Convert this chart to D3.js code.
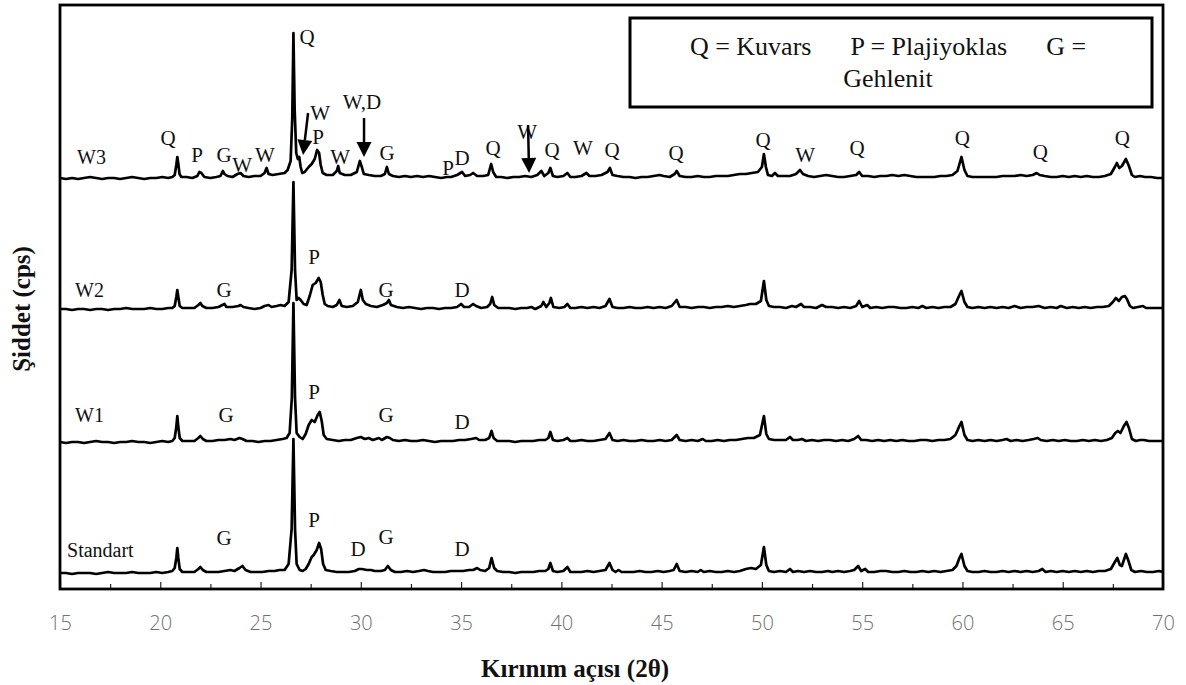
<!DOCTYPE html>
<html><head><meta charset="utf-8">
<script src="https://cdn.jsdelivr.net/npm/d3@7"></script>
<style>body{margin:0;background:#fff}svg{display:block}</style>
</head><body>
<svg id="c" width="1186" height="685"></svg>
<script>
// ---- data (2θ, relative intensity) ----
const seriesNames = ["Standart", "W1", "W2", "W3"];
const seriesOffsets = [15, 146, 279, 410];

const standart = [[15,1],[15.3,1],[15.6,0],[15.9,1],[16.2,1],[16.5,1],[16.8,0],[17.1,1],[17.4,2],[17.7,1],[18,1],[18.3,1],[18.6,2],[18.9,1],[19.2,1],[19.5,1],[19.8,2],[20.1,1],[20.4,2],[20.6,3],[20.72,6],[20.8,16],[20.85,26],[20.9,16],[20.97,5],[21.1,2],[21.4,2],[21.7,2],[21.9,5],[22,7],[22.12,4],[22.3,2],[22.6,2],[22.9,2],[23.2,3],[23.5,4],[23.7,3],[23.95,6],[24.1,8],[24.25,4],[24.5,2],[24.8,2],[25.1,2],[25.4,3],[25.7,3],[25.95,4],[26.2,4],[26.4,10],[26.55,45],[26.64,135],[26.72,45],[26.8,10],[26.95,4],[27.1,3],[27.25,5],[27.4,10],[27.55,17],[27.65,19],[27.8,24],[27.92,31],[28.02,25],[28.12,10],[28.25,4],[28.5,3],[28.8,2],[29.1,2],[29.4,2],[29.7,3],[29.9,5],[30.05,5],[30.3,4],[30.5,4],[30.7,3],[31,3],[31.2,4],[31.35,8],[31.5,4],[31.7,2],[32,2],[32.3,3],[32.6,2],[32.9,3],[33.15,4],[33.35,3],[33.6,2],[33.9,2],[34.2,2],[34.5,3],[34.8,3],[35.1,3],[35.4,4],[35.6,4],[35.8,6],[35.95,4],[36.2,3],[36.4,6],[36.52,16],[36.65,6],[36.8,3],[37.1,2],[37.4,2],[37.7,1],[38,2],[38.3,2],[38.6,2],[38.9,3],[39.2,3],[39.35,5],[39.45,11],[39.58,3],[39.8,2],[40.1,3],[40.3,7],[40.45,2],[40.7,2],[41,2],[41.3,3],[41.6,2],[41.9,3],[42.2,4],[42.4,11],[42.55,4],[42.7,2],[42.85,4],[43,2],[43.3,2],[43.6,2],[43.9,3],[44.2,2],[44.5,2],[44.8,3],[45.1,2],[45.4,3],[45.6,4],[45.75,10],[45.9,3],[46.2,2],[46.5,3],[46.8,2],[46.95,4],[47.1,2],[47.4,3],[47.7,2],[48,2],[48.3,3],[48.6,2],[48.9,3],[49.2,5],[49.45,6],[49.7,5],[49.95,9],[50.1,27],[50.22,9],[50.35,3],[50.6,2],[50.9,3],[51.2,2],[51.4,5],[51.55,2],[51.8,3],[52.1,2],[52.4,3],[52.7,2],[53,2],[53.3,3],[53.5,2],[53.8,3],[54.1,2],[54.4,3],[54.6,4],[54.8,8],[54.95,3],[55.15,5],[55.3,2],[55.6,2],[55.9,3],[56.2,3],[56.5,2],[56.8,2],[57.1,3],[57.4,2],[57.7,2],[58,3],[58.3,2],[58.6,3],[58.9,2],[59.2,3],[59.5,4],[59.7,8],[59.85,16],[59.95,20],[60.1,8],[60.25,3],[60.5,2],[60.8,2],[61.1,3],[61.4,2],[61.7,2],[62,3],[62.3,2],[62.6,3],[62.9,2],[63.2,3],[63.5,2],[63.8,3],[63.98,5],[64.15,2],[64.4,3],[64.7,2],[65,3],[65.3,2],[65.6,3],[65.9,2],[66.2,3],[66.5,2],[66.8,3],[67.1,3],[67.4,5],[67.6,12],[67.72,16],[67.85,9],[67.95,8],[68.15,20],[68.28,13],[68.42,4],[68.6,2],[68.9,3],[69.2,2],[69.5,2],[69.8,3],[70,2]];

const w1 = [[15,1],[15.3,0],[15.6,1],[15.9,1],[16.2,0],[16.5,1],[16.8,2],[17.1,1],[17.4,1],[17.7,0],[18,1],[18.3,1],[18.6,2],[18.9,1],[19.2,1],[19.5,0],[19.8,1],[20.1,2],[20.4,1],[20.6,2],[20.72,5],[20.8,16],[20.85,27],[20.9,16],[20.97,5],[21.1,2],[21.4,2],[21.7,2],[21.9,5],[22,7],[22.12,4],[22.3,2],[22.6,2],[22.9,3],[23.2,3],[23.5,4],[23.7,3],[23.95,5],[24.1,4],[24.3,2],[24.6,2],[24.9,1],[25.2,2],[25.5,2],[25.8,3],[26.1,4],[26.3,5],[26.45,10],[26.56,45],[26.64,140],[26.72,45],[26.8,10],[26.95,6],[27.1,4],[27.25,9],[27.4,18],[27.55,23],[27.7,21],[27.85,28],[27.95,31],[28.05,22],[28.15,8],[28.3,4],[28.6,3],[28.9,2],[29.2,3],[29.5,3],[29.8,5],[30,6],[30.2,4],[30.4,5],[30.6,3],[30.9,5],[31.05,3],[31.3,6],[31.45,5],[31.6,3],[31.9,2],[32.2,3],[32.5,2],[32.8,2],[33.1,3],[33.4,2],[33.7,1],[34,2],[34.3,2],[34.6,2],[34.9,3],[35.2,3],[35.5,4],[35.75,5],[35.9,3],[36.2,3],[36.4,5],[36.52,12],[36.62,5],[36.8,2],[37.1,2],[37.4,2],[37.7,1],[38,2],[38.3,2],[38.6,2],[38.9,3],[39.2,3],[39.35,5],[39.45,11],[39.58,3],[39.8,2],[40.1,3],[40.3,5],[40.45,2],[40.7,2],[41,3],[41.3,2],[41.6,2],[41.9,3],[42.2,4],[42.4,10],[42.55,3],[42.8,2],[43.1,3],[43.4,2],[43.7,2],[44,3],[44.3,2],[44.6,2],[44.9,3],[45.2,2],[45.5,3],[45.75,8],[45.9,3],[46.2,2],[46.5,3],[46.8,2],[47.05,4],[47.2,2],[47.5,2],[47.8,3],[48.1,2],[48.4,3],[48.7,3],[49,4],[49.3,5],[49.6,5],[49.9,8],[50.1,27],[50.22,9],[50.35,4],[50.6,3],[50.9,3],[51.2,3],[51.4,6],[51.55,3],[51.8,3],[52,4],[52.2,2],[52.5,3],[52.8,2],[53.1,3],[53.4,3],[53.7,2],[54,3],[54.3,2],[54.6,4],[54.8,7],[54.95,3],[55.2,3],[55.5,2],[55.8,3],[56.1,2],[56.4,3],[56.7,2],[57,3],[57.3,2],[57.6,2],[57.9,3],[58.2,3],[58.5,2],[58.8,3],[59.1,3],[59.4,4],[59.65,8],[59.85,17],[59.95,21],[60.1,8],[60.25,3],[60.5,2],[60.8,3],[61.1,2],[61.4,3],[61.7,2],[62,3],[62.2,4],[62.4,2],[62.7,3],[63,2],[63.3,3],[63.55,4],[63.75,5],[63.9,3],[64.2,2],[64.5,3],[64.8,2],[65.1,3],[65.4,2],[65.7,2],[66,3],[66.3,2],[66.6,3],[66.9,2],[67.2,3],[67.45,5],[67.62,10],[67.75,12],[67.88,10],[68.05,17],[68.18,21],[68.3,15],[68.45,4],[68.65,2],[68.85,3],[69.05,3],[69.3,2],[69.6,2],[70,2]];

const w2 = [[15,1],[15.3,1],[15.6,0],[15.9,1],[16.2,1],[16.5,0],[16.8,1],[17.1,1],[17.4,0],[17.7,1],[18,1],[18.3,2],[18.6,1],[18.9,1],[19.2,1],[19.5,2],[19.8,1],[20.1,1],[20.4,2],[20.6,2],[20.72,4],[20.8,13],[20.85,20],[20.9,13],[20.97,4],[21.1,2],[21.4,2],[21.7,2],[21.9,5],[22,7],[22.1,4],[22.3,2],[22.6,2],[22.9,3],[23.1,5],[23.2,6],[23.3,3],[23.6,3],[23.9,4],[24,5],[24.15,3],[24.4,2],[24.7,1],[25,2],[25.2,4],[25.4,5],[25.55,3],[25.8,4],[26,5],[26.2,4],[26.4,8],[26.55,40],[26.64,128],[26.72,40],[26.8,10],[26.9,12],[27,10],[27.15,6],[27.3,5],[27.45,14],[27.6,25],[27.75,27],[27.9,32],[28,28],[28.1,15],[28.2,6],[28.35,4],[28.6,3],[28.8,5],[28.93,10],[29.05,4],[29.3,3],[29.6,4],[29.85,8],[30,20],[30.1,10],[30.25,6],[30.5,4],[30.8,3],[31.1,5],[31.3,7],[31.4,10],[31.5,5],[31.8,3],[32.1,2],[32.4,3],[32.7,2],[33,1],[33.3,2],[33.6,2],[33.9,1],[34.2,2],[34.5,2],[34.8,3],[35,6],[35.15,3],[35.4,3],[35.6,6],[35.75,4],[36,2],[36.3,3],[36.45,6],[36.55,13],[36.65,5],[36.85,2],[37.1,2],[37.4,2],[37.7,1],[38,2],[38.3,2],[38.5,3],[38.7,1],[39,4],[39.1,8],[39.25,3],[39.4,7],[39.48,12],[39.6,3],[39.9,2],[40.15,3],[40.3,6],[40.45,2],[40.7,2],[41,3],[41.3,2],[41.6,3],[41.9,2],[42.2,4],[42.4,11],[42.55,3],[42.8,2],[43.1,2],[43.4,3],[43.7,2],[44,2],[44.3,3],[44.6,2],[44.9,3],[45.2,2],[45.5,4],[45.75,10],[45.9,3],[46.2,3],[46.5,2],[46.8,3],[47.1,3],[47.4,2],[47.7,3],[48,3],[48.3,4],[48.6,3],[48.9,4],[49.2,5],[49.4,6],[49.7,6],[49.95,9],[50.1,29],[50.22,10],[50.35,4],[50.6,3],[50.9,3],[51.2,2],[51.5,4],[51.7,3],[51.95,6],[52.1,3],[52.4,3],[52.7,2],[53,5],[53.2,3],[53.5,3],[53.8,2],[54.1,3],[54.4,2],[54.7,4],[54.85,9],[55,3],[55.25,5],[55.4,2],[55.7,3],[56,2],[56.3,3],[56.6,3],[56.9,2],[57.2,2],[57.5,3],[57.8,2],[58,4],[58.2,2],[58.5,3],[58.8,2],[59.1,3],[59.4,3],[59.65,6],[59.85,15],[59.95,19],[60.1,8],[60.25,3],[60.5,2],[60.8,3],[61.1,2],[61.4,3],[61.7,2],[62,3],[62.3,2],[62.6,4],[62.9,2],[63.2,3],[63.5,3],[63.8,4],[64.1,2],[64.4,3],[64.7,2],[64.9,4],[65.2,2],[65.5,3],[65.8,2],[66.1,3],[66.4,2],[66.7,3],[67,3],[67.3,4],[67.5,8],[67.65,12],[67.8,9],[67.95,13],[68.1,14],[68.2,11],[68.35,4],[68.5,2],[68.75,3],[69,4],[69.15,2],[69.4,2],[69.7,2],[70,2]];

const w3 = [[15,1],[15.3,0],[15.6,1],[15.9,0],[16.2,1],[16.5,2],[16.8,1],[17.1,0],[17.4,1],[17.7,1],[18,0],[18.3,1],[18.6,2],[18.9,1],[19.2,0],[19.5,1],[19.8,1],[20.1,2],[20.4,1],[20.6,2],[20.72,4],[20.8,14],[20.85,22],[20.9,15],[20.96,5],[21.05,2],[21.3,2],[21.6,1],[21.85,3],[21.95,7],[22.05,6],[22.2,2],[22.5,1],[22.8,2],[23,3],[23.12,8],[23.2,5],[23.35,3],[23.6,2],[23.85,5],[24,6],[24.15,3],[24.4,2],[24.7,3],[25,3],[25.2,6],[25.3,11],[25.4,5],[25.6,4],[25.9,5],[26.2,6],[26.35,9],[26.5,18],[26.58,60],[26.64,146],[26.7,70],[26.78,26],[26.86,20],[26.93,22],[27,12],[27.08,6],[27.2,7],[27.4,12],[27.55,15],[27.7,20],[27.82,29],[27.92,26],[28,14],[28.1,6],[28.3,4],[28.6,4],[28.8,8],[28.87,13],[28.95,6],[29.2,4],[29.5,4],[29.8,7],[29.95,18],[30.05,12],[30.15,5],[30.4,4],[30.7,3],[31,3],[31.2,5],[31.3,12],[31.4,5],[31.6,3],[31.9,2],[32.2,3],[32.5,2],[32.8,3],[33.1,2],[33.4,3],[33.7,2],[34,1],[34.3,2],[34.5,2],[34.8,4],[35.05,7],[35.2,3],[35.45,4],[35.6,6],[35.8,3],[36.1,3],[36.35,4],[36.5,15],[36.6,7],[36.75,2],[37,2],[37.3,1],[37.6,2],[37.9,2],[38.2,3],[38.5,2],[38.8,4],[39,8],[39.15,3],[39.35,6],[39.45,11],[39.58,3],[39.8,2],[40.1,3],[40.3,6],[40.45,2],[40.7,2],[41,3],[41.25,6],[41.4,3],[41.7,3],[42,4],[42.3,7],[42.42,11],[42.55,4],[42.8,3],[43.1,2],[43.4,2],[43.7,1],[44,2],[44.3,2],[44.6,3],[44.9,4],[45.1,3],[45.4,2],[45.65,5],[45.75,8],[45.9,3],[46.2,2],[46.5,2],[46.8,3],[47.1,2],[47.4,2],[47.7,3],[48,3],[48.3,3],[48.6,4],[48.9,5],[49.2,5],[49.5,6],[49.8,7],[50,12],[50.1,25],[50.2,12],[50.3,4],[50.5,3],[50.65,6],[50.8,3],[51.1,3],[51.4,3],[51.7,5],[51.9,9],[52.05,5],[52.3,3],[52.6,2],[52.9,3],[53.2,4],[53.5,3],[53.8,2],[54.1,2],[54.4,3],[54.7,4],[54.85,7],[55,3],[55.3,3],[55.6,2],[55.9,3],[56.2,3],[56.5,4],[56.8,3],[57.1,4],[57.4,3],[57.7,2],[58,2],[58.3,2],[58.6,2],[58.9,3],[59.2,3],[59.5,4],[59.75,8],[59.95,22],[60.1,9],[60.25,3],[60.5,2],[60.8,2],[61.1,2],[61.4,2],[61.7,2],[62,3],[62.3,3],[62.6,3],[62.9,4],[63.2,3],[63.5,4],[63.7,6],[63.85,4],[64.1,3],[64.4,2],[64.7,2],[65,3],[65.3,2],[65.6,3],[65.9,2],[66.2,3],[66.5,2],[66.8,2],[67.1,3],[67.4,5],[67.6,12],[67.7,16],[67.82,11],[67.95,13],[68.15,20],[68.3,13],[68.45,4],[68.6,2],[68.85,3],[69.1,2],[69.4,2],[69.7,1],[70,1]];

const seriesData = [standart, w1, w2, w3];

// tick values
const majorTicks = [15, 20, 25, 30, 35, 40, 45, 50, 55, 60, 65, 70];
const minorTicks = [17.5, 22.5, 27.5, 32.5, 37.5, 42.5, 47.5, 52.5, 57.5, 62.5, 67.5];

// sample names: [series index, 2θ, level]
const sampleLabels = [[0, 15.35, 24], [1, 15.75, 28], [2, 15.75, 20], [3, 15.85, 22]];

// peak labels: [series index, text, 2θ, level above baseline]
const peakLabels = [
  [3,"Q",20.39,41],[3,"P",21.83,24],[3,"G",23.18,24],[3,"W",24.08,14],[3,"W",25.22,24],
  [3,"Q",27.32,142],[3,"W",27.97,66],[3,"P",27.87,42],[3,"W",28.97,22],[3,"W,D",30.06,77],
  [3,"G",31.31,26],[3,"P",34.35,11],[3,"D",35.05,21],[3,"Q",36.6,31],[3,"W",38.29,47],
  [3,"Q",39.54,29],[3,"W",41.08,31],[3,"Q",42.53,29],[3,"Q",45.72,26],[3,"Q",50.06,39],
  [3,"W",52.16,24],[3,"Q",54.75,31],[3,"Q",59.99,41],[3,"Q",63.88,27],[3,"Q",67.97,41],
  [2,"G",23.18,20],[2,"P",27.67,53],[2,"G",31.26,20],[2,"D",35.05,20],
  [1,"G",23.28,28],[1,"P",27.67,51],[1,"G",31.26,28],[1,"D",35.05,21],
  [0,"G",23.18,36],[0,"P",27.67,54],[0,"D",29.86,25],[0,"G",31.26,37],[0,"D",35.05,25]
];

// arrows on W3: [series, 2θ start, level start, 2θ tip, level tip]
const arrows = [[3, 27.37, 66, 27.12, 24], [3, 30.16, 61, 30.16, 22], [3, 38.34, 54, 38.39, 6]];

const legendLines = ["Q = Kuvars      P = Plajiyoklas      G =", "Gehlenit"];
const xTitle = "Kırınım açısı (2θ)";
const yTitle = "Şiddet (cps)";

// ---- drawing ----
const svg = d3.select("#c");
const plot = {left: 60, right: 1163, top: 5, bottom: 589};
const x = d3.scaleLinear().domain([15, 70]).range([plot.left, plot.right]);
const y = d3.scaleLinear().domain([0, 584]).range([plot.bottom, plot.top]);

const serif = "'Liberation Serif','Times New Roman',serif";

// ticks
const gMinor = svg.append("g").attr("transform", `translate(0,${plot.bottom})`)
  .call(d3.axisBottom(x).tickValues(minorTicks).tickSizeInner(-5).tickSizeOuter(0).tickFormat(""));
const gMajor = svg.append("g").attr("transform", `translate(0,${plot.bottom})`)
  .call(d3.axisBottom(x).tickValues(majorTicks).tickSizeInner(-7).tickSizeOuter(0).tickPadding(27).tickFormat(d3.format("d")));
[gMinor, gMajor].forEach(g => {
  g.select(".domain").remove();
  g.selectAll(".tick line").attr("stroke", "#222").attr("stroke-width", 1.2);
});
gMajor.selectAll(".tick text")
  .attr("fill", "#707070")
  .attr("opacity", 0.999)
  .style("font-family", "'Open Sans', sans-serif")
  .style("font-weight", 300)
  .style("font-size", "20px");

// traces
const line = d3.line().x(d => x(d[0])).y(d => d[1]);
seriesData.forEach((arr, i) => {
  const off = seriesOffsets[i];
  svg.append("path")
    .datum(arr.map(d => [d[0], y(off + d[1])]))
    .attr("d", line)
    .attr("fill", "none")
    .attr("stroke", "#000")
    .attr("stroke-width", 2.7)
    .attr("stroke-linejoin", "round");
});

// frame
svg.append("rect").attr("x", plot.left).attr("y", plot.top)
  .attr("width", plot.right - plot.left).attr("height", plot.bottom - plot.top)
  .attr("fill", "none").attr("stroke", "#000").attr("stroke-width", 2.8);

// sample labels
svg.selectAll("text.sample").data(sampleLabels).enter().append("text")
  .attr("class", "sample")
  .attr("x", d => x(d[1]))
  .attr("y", d => y(seriesOffsets[d[0]] + d[2]))
  .attr("dy", "0.35em")
  .attr("text-anchor", "start")
  .style("font-family", serif).style("font-size", "20px").attr("fill", "#111")
  .text(d => seriesNames[d[0]]);

// peak labels
svg.selectAll("text.peak").data(peakLabels).enter().append("text")
  .attr("class", "peak")
  .attr("x", d => x(d[2]))
  .attr("y", d => y(seriesOffsets[d[0]] + d[3]))
  .attr("dy", "0.35em")
  .attr("text-anchor", "middle")
  .style("font-family", serif).style("font-size", "21px").attr("fill", "#111")
  .text(d => d[1]);

// arrows
arrows.forEach(a => {
  const x1 = x(a[1]), y1 = y(seriesOffsets[a[0]] + a[2]);
  const x2 = x(a[3]), y2 = y(seriesOffsets[a[0]] + a[4]);
  const dx = x2 - x1, dy = y2 - y1, len = Math.hypot(dx, dy);
  const ux = dx / len, uy = dy / len;
  const hl = 15, hw = 7.5;
  const bx = x2 - ux * hl, by = y2 - uy * hl;
  svg.append("line").attr("x1", x1).attr("y1", y1).attr("x2", bx).attr("y2", by)
    .attr("stroke", "#000").attr("stroke-width", 2.5);
  svg.append("path")
    .attr("d", `M${x2},${y2}L${bx - uy * hw},${by + ux * hw}L${bx + uy * hw},${by - ux * hw}Z`)
    .attr("fill", "#000");
});

// legend box
svg.append("rect").attr("x", 630).attr("y", 18).attr("width", 522).attr("height", 89)
  .attr("fill", "#fff").attr("stroke", "#000").attr("stroke-width", 3);
svg.selectAll("text.leg").data(legendLines).enter().append("text")
  .attr("class", "leg")
  .attr("x", 888).attr("y", (d, i) => 55 + i * 32)
  .attr("text-anchor", "middle")
  .style("white-space", "pre")
  .style("font-family", serif).style("font-size", "26px").attr("fill", "#111")
  .text(d => d);

// axis titles
svg.append("text").attr("x", 575).attr("y", 677).attr("text-anchor", "middle")
  .style("font-family", serif).style("font-weight", "bold").style("font-size", "25px").attr("fill", "#111")
  .text(xTitle);
svg.append("text").attr("transform", "translate(30,309) rotate(-90)").attr("text-anchor", "middle")
  .style("font-family", serif).style("font-weight", "bold").style("font-size", "25px").attr("fill", "#111")
  .text(yTitle);
</script>
</body></html>
